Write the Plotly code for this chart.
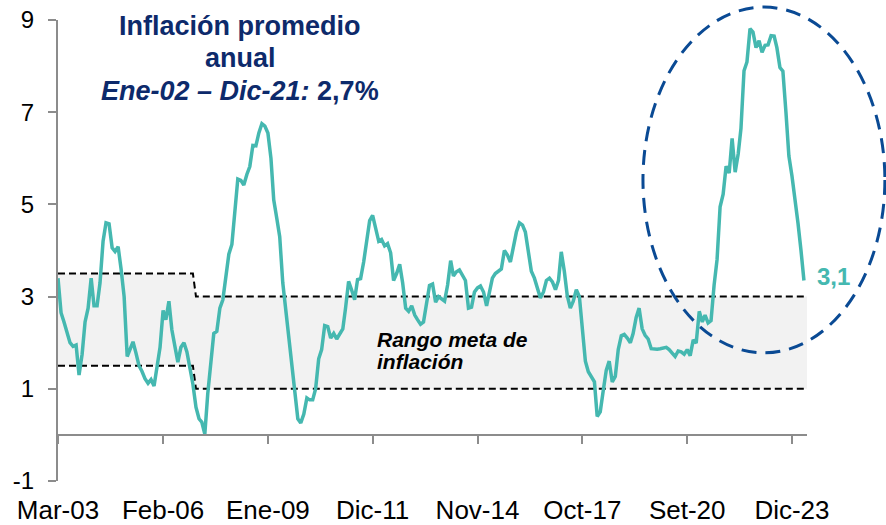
import plotly.graph_objects as go
import pandas as pd

# Inflación 12 meses (%), mensual desde Mar-03
inflacion = [
    3.40, 2.65, 2.45, 2.20, 2.00, 1.92, 1.95, 1.30, 1.75, 2.45,
    2.75, 3.40, 2.80, 2.80, 3.30, 4.20, 4.60, 4.58, 4.06, 3.98,
    4.08, 3.60, 3.00, 1.70, 1.88, 2.02, 1.78, 1.50, 1.38, 1.22,
    1.12, 1.20, 1.06, 1.45, 1.90, 2.70, 2.50, 2.90, 2.28, 1.92,
    1.58, 1.90, 2.00, 1.80, 1.45, 1.10, 0.60, 0.35, 0.28, 0.02,
    0.90, 1.55, 2.20, 2.25, 2.75, 2.93, 3.45, 3.92, 4.13, 4.80,
    5.55, 5.52, 5.42, 5.65, 5.82, 6.28, 6.27, 6.55, 6.75, 6.70,
    6.55, 6.00, 5.10, 4.70, 4.30, 3.30, 2.70, 2.05, 1.40, 0.85,
    0.35, 0.26, 0.45, 0.80, 0.76, 0.76, 1.00, 1.65, 1.85, 2.37,
    2.35, 2.10, 2.20, 2.08, 2.20, 2.30, 2.75, 3.33, 3.15, 2.93,
    3.37, 3.39, 3.75, 4.25, 4.65, 4.76, 4.45, 4.20, 4.24, 4.10,
    4.15, 3.95, 3.35, 3.50, 3.70, 3.30, 2.75, 2.68, 2.80, 2.60,
    2.50, 2.40, 2.45, 2.90, 3.24, 3.27, 2.88, 3.00, 2.95, 2.90,
    3.25, 3.78, 3.45, 3.54, 3.58, 3.45, 3.35, 2.75, 2.77, 3.10,
    3.19, 3.23, 3.10, 2.80, 3.05, 3.40, 3.50, 3.56, 3.60, 4.00,
    3.90, 3.75, 4.10, 4.40, 4.60, 4.55, 4.40, 4.00, 3.55, 3.40,
    3.20, 2.97, 3.10, 3.35, 3.40, 3.32, 3.15, 3.35, 3.97, 3.55,
    3.02, 2.75, 2.90, 3.15, 3.00, 2.20, 1.60, 1.37, 1.25, 1.15,
    0.40, 0.50, 0.95, 1.40, 1.60, 1.15, 1.27, 1.85, 2.15, 2.18,
    2.10, 2.00, 2.20, 2.55, 2.75, 2.30, 2.16, 2.08, 1.87, 1.86,
    1.86, 1.87, 1.88, 1.90, 1.85, 1.76, 1.70, 1.82, 1.80, 1.75,
    1.85, 1.72, 2.06, 1.99, 2.68, 2.45, 2.60, 2.43, 2.48, 3.25,
    3.80, 4.95, 5.22, 5.83, 5.68, 6.43, 5.70, 6.10, 6.65, 7.90,
    8.09, 8.81, 8.74, 8.40, 8.55, 8.30, 8.45, 8.46, 8.66, 8.65,
    8.40, 7.97, 7.89, 7.00, 6.05, 5.62, 5.15, 4.60, 4.00, 3.35,
]
fechas = pd.date_range("2003-03-01", periods=len(inflacion), freq="MS")

# Rango meta de inflación
meta_fechas = ["2003-03-01", "2006-12-01", "2007-01-01", "2024-01-01"]
meta_inf = [1.5, 1.5, 1.0, 1.0]
meta_sup = [3.5, 3.5, 3.0, 3.0]

etiquetas_x = ["Mar-03", "Feb-06", "Ene-09", "Dic-11", "Nov-14", "Oct-17", "Set-20", "Dic-23"]
ticks_x = ["2003-03-01", "2006-02-01", "2009-01-01", "2011-12-01",
           "2014-11-01", "2017-10-01", "2020-09-01", "2023-08-01"]
ticks_y = [-1, 1, 3, 5, 7, 9]
etiquetas_y = ["-1", "1", "3", "5", "7", "9"]

FONT = "Arial, Liberation Sans, sans-serif"
TEAL = "#45b8b0"
NAVY = "#0d2a6b"
GRIS = "#8c8c8c"

fig = go.Figure()
fig.add_trace(go.Scatter(
    x=meta_fechas, y=meta_inf, mode="lines",
    line=dict(color="black", width=2, dash="7px,4px"),
    hoverinfo="skip", showlegend=False,
))
fig.add_trace(go.Scatter(
    x=meta_fechas, y=meta_sup, mode="lines", fill="tonexty", fillcolor="#f2f2f2",
    line=dict(color="black", width=2, dash="7px,4px"),
    hoverinfo="skip", showlegend=False,
))
fig.add_trace(go.Scatter(
    x=fechas, y=inflacion, mode="lines",
    line=dict(color=TEAL, width=3.5),
    showlegend=False,
))

# elipse resaltando el periodo reciente
fig.add_shape(type="circle", xref="paper", yref="paper",
              x0=0.781, x1=1.104, y0=0.278, y1=1.028,
              line=dict(color="#0a4a94", width=3, dash="15px,9px"))

fig.add_annotation(x=fechas[-1], y=inflacion[-1], text="<b>3,1</b>", showarrow=False,
                   xanchor="left", yanchor="middle", xshift=11, yshift=4,
                   font=dict(family=FONT, size=24, color=TEAL))

for txt, yy in [("<b>Inflación promedio</b>", 0.987),
                ("<b>anual</b>", 0.918),
                ("<b><i>Ene-02 – Dic-21:</i> 2,7%</b>", 0.846)]:
    fig.add_annotation(x=0.243, y=yy, xref="paper", yref="paper", text=txt,
                       showarrow=False, xanchor="center", yanchor="middle",
                       font=dict(family=FONT, size=27, color=NAVY))

for txt, yy in [("<b><i>Rango meta de</i></b>", 2.07), ("<b><i>inflación</i></b>", 1.59)]:
    fig.add_annotation(x=0.423, y=yy, xref="paper", yref="y", text=txt,
                       showarrow=False, xanchor="left", yanchor="middle",
                       font=dict(family=FONT, size=21, color="black"))

fig.update_layout(
    width=886, height=525,
    margin=dict(l=58, r=79, t=20, b=44),
    plot_bgcolor="white", paper_bgcolor="white",
    font=dict(family=FONT, color="black"),
    xaxis=dict(
        range=["2003-03-01", "2024-01-01"],
        anchor="free", position=0.1, automargin=False,
        tickvals=ticks_x, ticktext=etiquetas_x,
        showline=True, linecolor=GRIS, linewidth=2,
        ticks="outside", ticklen=8, tickcolor=GRIS, tickwidth=1.5,
        showgrid=False, zeroline=False, ticklabeloverflow="allow",
        tickfont=dict(size=26), ticklabelstandoff=44,
    ),
    yaxis=dict(
        range=[-1, 9], tickvals=ticks_y, ticktext=etiquetas_y, automargin=False,
        showline=True, linecolor=GRIS, linewidth=2,
        ticks="outside", ticklen=8, tickcolor=GRIS, tickwidth=1.5,
        showgrid=False, zeroline=False, ticklabeloverflow="allow",
        tickfont=dict(size=24), ticklabelstandoff=9,
    ),
)

# quitar el margen por defecto del body para que el gráfico ocupe toda la ventana
fig.write_html("out.html", config={"displayModeBar": False},
               post_script="document.body.style.margin='0';")
